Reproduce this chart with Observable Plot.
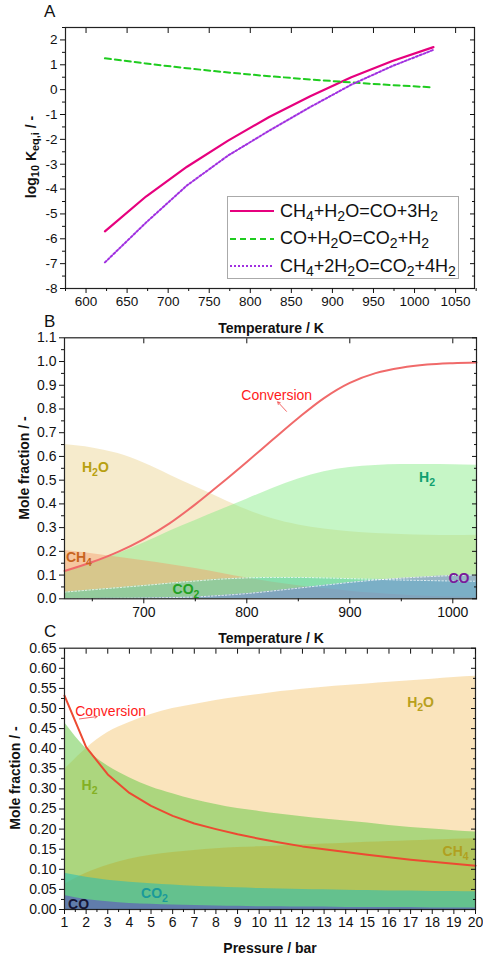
<!DOCTYPE html>
<html><head><meta charset="utf-8">
<script src="https://cdn.jsdelivr.net/npm/d3@7"></script>
<script src="https://cdn.jsdelivr.net/npm/@observablehq/plot@0.6"></script>
<style>
body{margin:0;background:#fff;font-family:"Liberation Sans",Arial,sans-serif;}
#root{position:relative;width:483px;height:958px;overflow:hidden;background:#fff;}
.abs{position:absolute;white-space:nowrap;line-height:1;}
.ttl{font-weight:bold;font-size:14px;color:#111;}
.rot{transform:translate(-50%,-50%) rotate(-90deg);}
.ctr{transform:translate(-50%,-50%);}
.plbl{font-size:17px;color:#111;}
sub{font-size:78%;vertical-align:-0.28em;line-height:0;}
#legA{position:absolute;left:227px;top:196px;width:232px;height:83px;border:1px solid #aaa;background:#fff;box-sizing:border-box;}
#legA .row{position:absolute;left:0;height:26px;display:flex;align-items:center;}
#legA span{font-size:18px;color:#111;margin-left:6px;}
svg.pl{position:absolute;left:0;}
</style></head><body><div id="root"></div>
<script>
// ---------- Panel A data ----------
const tempA = [623, 673, 723, 773, 823, 873, 923, 973, 1023];
const logK_SMR = [-5.7, -4.3, -3.1, -2.05, -1.1, -0.27, 0.5, 1.15, 1.71];
const logK_WGS = [1.26, 1.05, 0.86, 0.69, 0.54, 0.41, 0.29, 0.18, 0.09];
const logK_DSR = [-6.95, -5.35, -3.85, -2.65, -1.65, -0.7, 0.2, 0.95, 1.6];
const seriesA = ["CH4+H2O=CO+3H2", "CO+H2O=CO2+H2", "CH4+2H2O=CO2+4H2"];
const xTicksA = [600, 650, 700, 750, 800, 850, 900, 950, 1000, 1050];
const yTicksA = [-8, -7, -6, -5, -4, -3, -2, -1, 0, 1, 2];

// ---------- Panel B data ----------
const tempB = [623, 650, 675, 700, 725, 750, 775, 800, 825, 850, 875, 900, 925, 950, 975, 1000, 1023];
const H2O_B = [0.65, 0.636, 0.612, 0.572, 0.522, 0.472, 0.423, 0.375, 0.337, 0.311, 0.294, 0.283, 0.275, 0.271, 0.268, 0.267, 0.268];
const H2_B  = [0.112, 0.15, 0.19, 0.235, 0.285, 0.33, 0.375, 0.42, 0.465, 0.505, 0.535, 0.553, 0.562, 0.566, 0.566, 0.565, 0.563];
const CH4_B = [0.204, 0.19, 0.175, 0.16, 0.145, 0.128, 0.108, 0.088, 0.07, 0.055, 0.043, 0.032, 0.023, 0.016, 0.011, 0.008, 0.006];
const CO2_B = [0.028, 0.038, 0.047, 0.056, 0.066, 0.075, 0.083, 0.088, 0.09, 0.09, 0.088, 0.085, 0.082, 0.079, 0.077, 0.075, 0.074];
const CO_B  = [0, 0.001, 0.002, 0.003, 0.005, 0.008, 0.014, 0.022, 0.033, 0.045, 0.057, 0.069, 0.079, 0.087, 0.093, 0.098, 0.1];
const conv_B = [0.117, 0.155, 0.198, 0.252, 0.318, 0.398, 0.486, 0.577, 0.67, 0.762, 0.846, 0.91, 0.951, 0.974, 0.987, 0.993, 0.996];
const xTicksB = [700, 800, 900, 1000];
const xMinorB = [650, 750, 850, 950];
const yTicksB = [0, 0.1, 0.2, 0.3, 0.4, 0.5, 0.6, 0.7, 0.8, 0.9, 1.0, 1.1];
const labelsB = [
  {x: 653, y: 0.553, text: "H2O", color: "#B8A010"},
  {x: 975, y: 0.51, text: "H2", color: "#10A070"},
  {x: 637, y: 0.174, text: "CH4", color: "#C8641E"},
  {x: 741, y: 0.04, text: "CO2", color: "#22A022"},
  {x: 1006, y: 0.086, text: "CO", color: "#7A1A9A"}
];
const convLabelB = {x: 829, y: 0.857, text: "Conversion"};
const convArrowB = {x1: 838.5, y1: 0.79, x2: 830, y2: 0.83};

// ---------- Panel C data ----------
const pressC = [1, 2, 3, 4, 5, 6, 7, 8, 9, 10, 11, 12, 13, 14, 15, 16, 17, 18, 19, 20];
const H2O_C = [0.348, 0.40, 0.44, 0.465, 0.485, 0.50, 0.51, 0.52, 0.528, 0.535, 0.542, 0.548, 0.553, 0.557, 0.561, 0.565, 0.569, 0.573, 0.577, 0.58];
const H2_C  = [0.465, 0.40, 0.357, 0.328, 0.305, 0.288, 0.273, 0.261, 0.251, 0.244, 0.237, 0.231, 0.225, 0.22, 0.215, 0.209, 0.204, 0.2, 0.196, 0.193];
const CH4_C = [0.062, 0.09, 0.11, 0.125, 0.135, 0.142, 0.147, 0.151, 0.154, 0.156, 0.158, 0.161, 0.163, 0.165, 0.167, 0.169, 0.171, 0.173, 0.175, 0.176];
const CO2_C = [0.09, 0.08, 0.073, 0.068, 0.064, 0.061, 0.058, 0.056, 0.054, 0.052, 0.051, 0.05, 0.049, 0.048, 0.047, 0.046, 0.046, 0.045, 0.045, 0.044];
const CO_C  = [0.035, 0.025, 0.019, 0.015, 0.013, 0.011, 0.01, 0.009, 0.008, 0.007, 0.007, 0.006, 0.006, 0.005, 0.005, 0.005, 0.005, 0.004, 0.004, 0.004];
const conv_C = [0.532, 0.404, 0.336, 0.29, 0.258, 0.233, 0.214, 0.2, 0.187, 0.176, 0.166, 0.157, 0.15, 0.143, 0.136, 0.13, 0.124, 0.119, 0.114, 0.109];
const xTicksC = d3.range(1, 21);
const xMinorC = d3.range(1.5, 20, 1);
const yTicksC = d3.range(0, 0.651, 0.05).map(v => +v.toFixed(2));
const labelsC = [
  {x: 17.46, y: 0.515, text: "H2O", color: "#B8A020"},
  {x: 2.16, y: 0.308, text: "H2", color: "#84B024"},
  {x: 19.08, y: 0.144, text: "CH4", color: "#B0A020"},
  {x: 5.16, y: 0.04, text: "CO2", color: "#1A9A9A"},
  {x: 1.65, y: 0.0125, text: "CO", color: "#151535"}
];
const convLabelC = {x: 3.13, y: 0.4925, text: "Conversion"};
const convArrowC = {x1: 1.69, y1: 0.474, x2: 2.51, y2: 0.48};

// ---------- helpers ----------
const FONT = "Liberation Sans, Arial, sans-serif";
const root = document.getElementById("root");
const chemNames = ["H2O", "H2", "CH4", "CO2", "CO"];

function subscriptify(svg, fs) {
  svg.querySelectorAll("text").forEach(t => {
    const s = t.textContent;
    if (!chemNames.includes(s)) return;
    t.textContent = "";
    const parts = s.match(/[A-Za-z]+|\d+/g);
    let prevDigit = false;
    parts.forEach(p => {
      const ts = document.createElementNS("http://www.w3.org/2000/svg", "tspan");
      ts.textContent = p;
      const dig = /\d/.test(p);
      if (dig) { ts.setAttribute("font-size", (fs * 0.75) + "px"); ts.setAttribute("dy", (fs * 0.3) + "px"); }
      else if (prevDigit) { ts.setAttribute("dy", (-fs * 0.3) + "px"); }
      prevDigit = dig;
      t.appendChild(ts);
    });
  });
}

function frameAxes({xMajor, xMinor, yMajor, yMinor, xFmt, yFmt, fs}) {
  return [
    Plot.frame({stroke: "#222", strokeWidth: 1.2}),
    Plot.axisX(xMajor, {anchor: "bottom", tickSize: 5, tickPadding: 3, fontSize: fs, tickFormat: xFmt, label: null, color: "#111"}),
    Plot.axisX(xMinor, {anchor: "bottom", tickSize: 3, text: null, label: null}),
    Plot.axisX(xMajor, {anchor: "top", tickSize: -5, text: null, label: null}),
    Plot.axisY(yMajor, {anchor: "left", tickSize: 5, tickPadding: 3, fontSize: fs, tickFormat: yFmt, label: null, color: "#111"}),
    Plot.axisY(yMinor, {anchor: "left", tickSize: 3, text: null, label: null}),
    Plot.axisY(yMajor, {anchor: "right", tickSize: -5, text: null, label: null}),
    Plot.axisY(yMinor, {anchor: "right", tickSize: -3, text: null, label: null})
  ];
}

function place(svg, top) {
  svg.classList.add("pl");
  svg.style.top = top + "px";
  root.appendChild(svg);
}

function html(cls, content, x, y) {
  const d = document.createElement("div");
  d.className = "abs " + cls;
  d.style.left = x + "px"; d.style.top = y + "px";
  d.innerHTML = content;
  root.appendChild(d);
}

// ---------- Panel A ----------
const dataA = [];
tempA.forEach((t, i) => {
  dataA.push({T: t, v: logK_SMR[i], s: seriesA[0]});
  dataA.push({T: t, v: logK_WGS[i], s: seriesA[1]});
  dataA.push({T: t, v: logK_DSR[i], s: seriesA[2]});
});
const styleA = {
  [seriesA[0]]: {stroke: "#E6007E", w: 2.2, dash: null},
  [seriesA[1]]: {stroke: "#1FCC1F", w: 2, dash: "6,4"},
  [seriesA[2]]: {stroke: "#A030E0", w: 2, dash: "2,2"}
};
const plotA = Plot.plot({
  width: 483, height: 318,
  marginTop: 27, marginBottom: 30, marginLeft: 65, marginRight: 9,
  style: {background: "transparent", overflow: "visible", fontFamily: FONT, color: "#111"},
  x: {domain: [575, 1073]},
  y: {domain: [-8, 2.5]},
  marks: [
    ...seriesA.map(s => Plot.line(dataA.filter(d => d.s === s), {x: "T", y: "v", stroke: styleA[s].stroke, strokeWidth: styleA[s].w, strokeDasharray: styleA[s].dash})),
    ...frameAxes({xMajor: xTicksA, xMinor: d3.range(575, 1076, 25).filter(v => v % 50 !== 0), yMajor: yTicksA, yMinor: d3.range(-7.5, 2.6, 1), xFmt: d => String(d), yFmt: d => String(d), fs: 13.5})
  ]
});
place(plotA, 0);

// legend A
const leg = document.createElement("div");
leg.id = "legA";
const legendHTML = [
  "CH<sub>4</sub>+H<sub>2</sub>O=CO+3H<sub>2</sub>",
  "CO+H<sub>2</sub>O=CO<sub>2</sub>+H<sub>2</sub>",
  "CH<sub>4</sub>+2H<sub>2</sub>O=CO<sub>2</sub>+4H<sub>2</sub>"
];
seriesA.forEach((s, i) => {
  const st = styleA[s];
  const row = document.createElement("div");
  row.className = "row";
  row.style.top = (1 + i * 27.5) + "px";
  row.innerHTML = `<svg width="44" height="10" style="margin-left:2px"><line x1="0" x2="44" y1="5" y2="5" stroke="${st.stroke}" stroke-width="${st.w}" ${st.dash ? `stroke-dasharray="${st.dash}"` : ""}/></svg><span>${legendHTML[i]}</span>`;
  leg.appendChild(row);
});
root.appendChild(leg);

// ---------- Panel B ----------
const rowsB = tempB.map((t, i) => ({T: t, H2O: H2O_B[i], H2: H2_B[i], CH4: CH4_B[i], CO2: CO2_B[i], CO: CO_B[i], conv: conv_B[i]}));
const areaB = (key, fill, op) => Plot.areaY(rowsB, {x: "T", y: key, fill, fillOpacity: op, curve: "monotone-x"});
const plotB = Plot.plot({
  width: 483, height: 305,
  marginTop: 19.3, marginBottom: 24.7, marginLeft: 64, marginRight: 7,
  style: {background: "transparent", overflow: "visible", fontFamily: FONT, color: "#111"},
  x: {domain: [623, 1023]},
  y: {domain: [0, 1.1]},
  marks: [
    areaB("H2O", "#EED89A", 0.5),
    areaB("H2", "#80EA80", 0.45),
    areaB("CH4", "#F89060", 0.4),
    areaB("CO2", "#40D0B0", 0.45),
    areaB("CO", "#7080E0", 0.5),
    Plot.line(rowsB, {x: "T", y: "CO2", stroke: "white", strokeWidth: 0.8, strokeDasharray: "1.5,2", curve: "monotone-x"}),
    Plot.line(rowsB, {x: "T", y: "CO", stroke: "white", strokeWidth: 0.8, strokeDasharray: "1.5,2", curve: "monotone-x"}),
    Plot.line(rowsB, {x: "T", y: "conv", stroke: "#F06A6A", strokeWidth: 2, curve: "catmull-rom"}),
    Plot.arrow([convArrowB], {x1: "x1", y1: "y1", x2: "x2", y2: "y2", stroke: "#F04040", strokeWidth: 0.8, headLength: 5}),
    Plot.text([convLabelB], {x: "x", y: "y", text: "text", fill: "#FF1A1A", fontSize: 14}),
    Plot.text(labelsB, {x: "x", y: "y", text: "text", fill: "color", fontSize: 14, fontWeight: "bold"}),
    ...frameAxes({xMajor: xTicksB, xMinor: xMinorB, yMajor: yTicksB, yMinor: d3.range(0.05, 1.1, 0.1), xFmt: d => String(d), yFmt: d3.format(".1f"), fs: 14})
  ]
});
subscriptify(plotB, 14);
place(plotB, 318);

// ---------- Panel C ----------
const rowsC = pressC.map((p, i) => ({P: p, H2O: H2O_C[i], H2: H2_C[i], CH4: CH4_C[i], CO2: CO2_C[i], CO: CO_C[i], conv: conv_C[i]}));
const areaC = (key, fill, op) => Plot.areaY(rowsC, {x: "P", y: key, fill, fillOpacity: op, curve: "monotone-x"});
const plotC = Plot.plot({
  width: 483, height: 335,
  marginTop: 24.7, marginBottom: 49, marginLeft: 64, marginRight: 8,
  style: {background: "transparent", overflow: "visible", fontFamily: FONT, color: "#111"},
  x: {domain: [1, 20]},
  y: {domain: [0, 0.65]},
  marks: [
    areaC("H2O", "#F5C46A", 0.45),
    areaC("H2", "#6CCB4A", 0.55),
    areaC("CH4", "#B8B030", 0.45),
    areaC("CO2", "#30C0B0", 0.6),
    areaC("CO", "#6060B8", 0.7),
    Plot.line(rowsC, {x: "P", y: "conv", stroke: "#EC4A32", strokeWidth: 2}),
    Plot.arrow([convArrowC], {x1: "x1", y1: "y1", x2: "x2", y2: "y2", stroke: "#F04040", strokeWidth: 0.8, headLength: 5}),
    Plot.text([convLabelC], {x: "x", y: "y", text: "text", fill: "#FF1A1A", fontSize: 14}),
    Plot.text(labelsC, {x: "x", y: "y", text: "text", fill: "color", fontSize: 14, fontWeight: "bold"}),
    ...frameAxes({xMajor: xTicksC, xMinor: xMinorC, yMajor: yTicksC, yMinor: d3.range(0.025, 0.65, 0.05), xFmt: d => String(d), yFmt: d3.format(".2f"), fs: 14})
  ]
});
subscriptify(plotC, 14);
place(plotC, 623);

// ---------- titles and panel letters ----------
html("plbl", "A", 44, 3);
html("plbl", "B", 44, 313);
html("plbl", "C", 44, 623);
html("ttl ctr", "Temperature / K", 271, 328);
html("ttl ctr", "Temperature / K", 271, 638);
html("ttl ctr", "Pressure / bar", 270, 948);
html("ttl rot", "log<sub>10</sub> K<sub>eq,i</sub> / -", 31, 157);
html("ttl rot", "Mole fraction / -", 24, 468);
html("ttl rot", "Mole fraction / -", 15, 778);
</script></body></html>
